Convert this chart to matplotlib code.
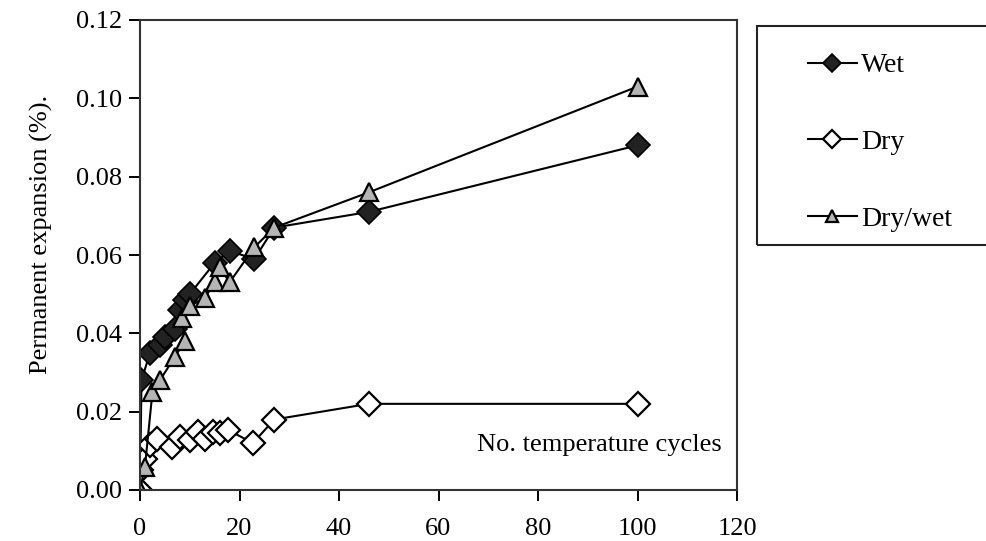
import matplotlib
matplotlib.use("Agg")
import matplotlib.pyplot as plt
from matplotlib.patches import Rectangle

plt.rcParams['font.family'] = ['Liberation Serif', 'DejaVu Serif']

wet_x = [0, 0.3, 2, 4, 5, 7, 8, 9, 10, 15, 18, 23, 27, 46, 100]
wet_y = [0.0, 0.028, 0.035, 0.037, 0.039, 0.041, 0.046, 0.0485, 0.050, 0.058, 0.061, 0.059, 0.067, 0.071, 0.088]

dry_x = [0, 0.3, 1, 2, 3.5, 6.5, 8, 10, 11.7, 13, 14.7, 16, 17.7, 22.7, 27, 46, 100]
dry_y = [0.0, 0.005, 0.008, 0.0115, 0.013, 0.011, 0.0135, 0.0128, 0.0148, 0.013, 0.0148, 0.0146, 0.0153, 0.012, 0.018, 0.022, 0.022]

dw_x = [0, 1, 2.5, 4, 7, 9, 8.5, 10, 13, 15, 16, 18, 23, 27, 46, 100]
dw_y = [0.0, 0.006, 0.025, 0.028, 0.034, 0.038, 0.044, 0.047, 0.049, 0.053, 0.057, 0.053, 0.062, 0.067, 0.076, 0.103]

x_ticks = [0, 20, 40, 60, 80, 100, 120]
y_ticks = [0.00, 0.02, 0.04, 0.06, 0.08, 0.10, 0.12]

W, H = 986, 541
fig = plt.figure(figsize=(W / 100, H / 100), dpi=100)
ax = fig.add_axes([140 / W, 51 / H, 597 / W, 470 / H])

ax.plot(wet_x, wet_y, color='black', lw=1.5, marker='D', markersize=12,
        markerfacecolor='#222222', markeredgecolor='black', markeredgewidth=1.2, label='Wet')
ax.plot(dry_x, dry_y, color='black', lw=1.5, marker='D', markersize=12,
        markerfacecolor='white', markeredgecolor='black', markeredgewidth=1.6, label='Dry')
ax.plot(dw_x, dw_y, color='black', lw=1.5, marker='^', markersize=13,
        markerfacecolor='#b5b5b5', markeredgecolor='black', markeredgewidth=1.6, label='Dry/wet')

ax.set_xlim(0, 120)
ax.set_ylim(0, 0.12)
ax.set_xticks(x_ticks)
ax.set_yticks(y_ticks)
ax.set_yticklabels([f"{v:.2f}" for v in y_ticks])
ax.tick_params(direction='out', length=8, width=1.4, labelsize=19, colors='black')
ax.tick_params(axis='x', pad=12)
ax.tick_params(axis='y', pad=5)
for s in ax.spines.values():
    s.set_linewidth(1.5)
    s.set_color('#333333')

ax.set_ylabel('Permanent expansion (%).', fontsize=19)
ax.yaxis.set_label_coords(-0.145, 0.543)
ax.text(0.975, 0.096, 'No. temperature cycles', transform=ax.transAxes,
        ha='right', va='center', fontsize=19)

fig.patches.append(Rectangle((757 / W, 1 - 245 / H), 240 / W, 219 / H,
                             transform=fig.transFigure, fill=False,
                             edgecolor='#222222', linewidth=1.5))

leg = fig.legend(loc='upper left', bbox_to_anchor=(808 / W, 1 - 53 / H), fontsize=20,
                 frameon=False, borderpad=0, labelspacing=1.84, handlelength=1.75,
                 handletextpad=0.15, borderaxespad=0)
for h in leg.legend_handles:
    h.set_markersize(9)

fig.savefig('out.png', dpi=100)
